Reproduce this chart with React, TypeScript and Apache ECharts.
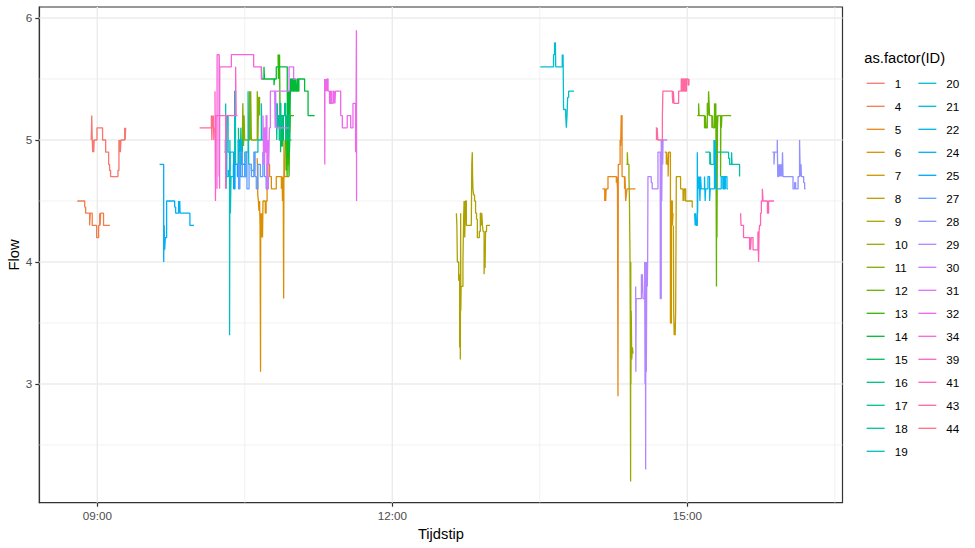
import React, { useEffect, useRef } from "react";
import * as echarts from "echarts";

// ---- axis / tick values (time in minutes since midnight) ----
const xTicks = [540, 720, 900];
const xTickLabels = ["09:00", "12:00", "15:00"];
const xMinor = [630, 810, 990];
const yTicks = [3, 4, 5, 6];
const yMinor = [2.5, 3.5, 4.5, 5.5];
const X_MIN = 504.6;
const X_MAX = 994.7;
const Y_MIN = 2.027;
const Y_MAX = 6.09;

// ---- IDs (factor levels, legend order) ----
const ids = [1, 4, 5, 6, 7, 8, 9, 10, 11, 12, 13, 14, 15, 16, 17, 18, 19, 20, 21, 22, 24, 25, 27, 28, 29, 30, 31, 32, 34, 39, 41, 43, 44];

// ---- series: [time (min), flow] ----
const s1 = [[536.3,5.0],[536.6,5.2],[536.9,5.0],[537.2,4.9],[537.5,5.0],[537.8,4.9],[538.1,5.0],[539.8,5.1],[543.2,5.0],[545.1,4.9],[546.9,4.8],[547.5,4.75],[548.1,4.7],[552.6,4.75],[553.2,5.0],[553.5,4.9],[553.8,5.0],[554.1,4.9],[554.4,5.0],[556.7,5.1],[557.0,5.0],[557.3,5.1]];
const s4 = [[527.8,4.5],[532.3,4.45],[532.9,4.4],[535.3,4.3],[535.7,4.4],[536.9,4.3],[539.6,4.2],[540.8,4.3],[541.4,4.4],[541.7,4.3],[542.0,4.4],[543.8,4.3],[547.7,4.3]];
const s24 = [[578.0,4.8],[580.5,4.0],[580.8,4.3],[581.1,4.1],[581.5,4.2],[582.3,4.5],[587.2,4.45],[587.8,4.4],[589.6,4.5],[590.0,4.4],[590.3,4.5],[590.5,4.4],[596.5,4.3],[599.0,4.3]];
const s44 = [[602.4,5.1],[609.6,5.2],[609.9,5.0],[610.2,5.2],[610.5,5.1],[610.8,5.2],[611.1,5.0],[611.4,5.1],[611.6,5.1]];
const s39 = [[611.8,5.4],[612.1,4.5],[612.4,5.2],[618.3,4.6],[618.6,5.2],[624.4,5.6],[624.7,5.2],[625.5,5.2]];
const s34 = [[613.0,4.6],[613.1,5.7],[614.3,4.7],[614.4,5.7],[614.6,4.6],[614.7,5.6],[621.8,5.7],[635.4,5.6],[640.1,5.5],[641.0,5.5]];
const s31 = [[641.1,5.2],[641.5,4.8],[642.0,5.1],[642.5,4.9],[643.0,5.2],[643.5,4.6],[644.2,5.0],[644.6,4.8],[645.0,5.1],[645.6,5.4],[657.0,5.6],[659.8,5.5],[661.4,5.5]];
const s30 = [[648.2,5.4],[648.5,5.1],[648.8,5.4],[649.2,5.1],[657.0,5.1]];
const s14 = [[640.1,5.6],[640.4,5.5],[641.7,5.6],[642.0,5.5],[647.8,5.45],[648.1,5.5],[649.2,5.6],[655.9,5.4],[656.3,4.85],[656.7,5.4],[657.2,4.9],[657.6,5.2],[657.9,5.5],[658.4,5.4],[659.0,5.5],[659.5,5.4],[660.0,5.5],[660.5,5.4],[661.0,5.5],[661.4,5.4],[662.0,5.5],[662.5,5.4],[663.0,5.5],[666.5,5.4],[668.6,5.2],[672.6,5.2]];
const s13 = [[650.3,5.7],[650.5,5.5],[650.8,5.7],[651.0,5.55],[651.2,5.7],[651.5,5.2],[654.9,5.0],[655.2,4.75],[655.5,5.0],[655.8,4.7],[656.1,5.0],[656.4,4.8],[656.7,4.9],[657.0,4.7],[657.3,5.0],[657.7,5.2],[660.0,5.2]];
const s17 = [[649.2,5.3],[649.5,5.0],[649.8,5.3],[650.1,5.1],[650.5,5.2],[651.0,5.0],[651.5,5.3],[652.0,5.1],[653.0,5.2],[654.3,5.3],[655.0,5.0],[655.5,5.2],[657.0,5.0],[658.4,5.0]];
const s16 = [[626.1,5.1],[626.4,4.7],[626.8,5.0],[627.2,4.75],[627.6,5.1],[628.0,4.8],[628.5,5.0],[629.1,5.0]];
const s15 = [[651.8,4.9],[652.1,5.2],[652.5,4.95],[653.0,5.2],[653.5,5.0],[654.0,5.0]];
const s11 = [[628.5,5.0],[628.8,5.3],[629.2,4.95],[629.6,5.2],[629.9,5.0],[632.9,5.4],[633.2,5.0],[633.6,5.4],[634.0,5.0],[637.6,5.4],[638.0,5.0],[638.4,5.35],[639.0,5.2],[639.3,5.2]];
const s19 = [[618.3,5.3],[618.6,4.6],[619.0,5.2],[619.8,4.9],[620.7,3.4],[620.9,5.0],[621.2,4.4],[621.6,4.7],[623.0,4.8],[623.8,5.4],[624.3,4.8],[625.9,5.0],[628.0,4.8],[630.0,4.9],[632.0,5.4],[632.4,4.8],[634.0,4.75],[636.0,4.9],[638.0,5.0],[640.1,5.3],[640.5,5.0],[643.0,5.0]];
const s21 = [[617.5,4.9],[618.1,5.0],[619.0,4.7],[620.0,4.75],[621.0,4.9],[622.5,4.9]];
const s25 = [[622.4,4.9],[623.2,4.6],[624.0,4.8],[625.5,4.7],[626.8,5.0],[627.3,4.7],[628.5,4.8],[630.0,4.7],[631.0,4.7]];
const s27 = [[625.5,4.8],[626.2,4.6],[627.0,4.9],[628.5,4.7],[630.6,4.9],[631.3,4.6],[632.6,4.8],[634.0,4.7],[635.5,4.9],[636.2,4.7],[637.0,4.6],[638.0,4.8],[639.5,4.7],[641.0,4.9],[642.0,4.7],[643.0,4.6],[644.3,4.7]];
const s6 = [[637.6,4.85],[637.9,4.55],[638.3,4.5],[638.6,4.42],[639.0,4.5],[639.3,4.3],[639.6,3.1],[639.7,4.4],[640.0,4.2],[640.4,4.4],[640.8,4.2],[641.1,4.5],[642.5,4.4],[643.0,4.5],[643.6,4.8],[645.1,4.7],[646.2,4.6],[649.2,4.7],[652.3,4.6],[652.7,4.7],[653.0,4.5],[653.4,4.7],[653.7,3.7],[653.9,5.0],[654.3,4.7],[657.0,4.7]];
const s32 = [[678.7,5.5],[678.8,4.8],[678.9,5.5],[679.3,5.4],[679.6,5.5],[680.0,5.4],[680.3,5.5],[680.8,5.4],[681.7,5.3],[682.3,5.4],[682.8,5.3],[683.8,5.4],[684.4,5.3],[684.7,5.4],[685.0,5.3],[685.3,5.4],[688.5,5.2],[689.5,5.1],[692.5,5.2],[694.6,5.1],[696.0,5.3],[697.6,4.9],[697.9,5.3],[698.1,5.9],[698.2,4.5]];
const s9 = [[759.1,4.4],[759.4,4.3],[759.7,4.0],[760.5,3.85],[761.1,3.3],[761.3,3.9],[761.5,3.2],[761.6,3.7],[761.7,4.4],[761.8,3.6],[762.0,3.8],[762.5,3.8],[763.1,4.0],[763.5,4.35],[763.8,4.5],[764.2,4.2],[764.6,4.5],[765.2,4.3],[768.2,4.3],[768.5,4.8],[768.8,4.9],[769.0,4.7],[769.2,4.6],[769.6,4.55],[770.2,4.5],[770.8,4.4],[771.4,4.35],[771.9,4.2],[773.1,4.25],[773.7,4.4],[774.2,4.3],[774.6,4.4],[775.0,4.3],[775.4,4.25],[776.0,3.9],[776.3,4.1],[776.6,3.95],[776.9,4.25],[777.5,4.3],[779.6,4.3]];
const s20 = [[810.3,5.6],[818.4,5.7],[819.0,5.8],[819.3,5.7],[819.5,5.8],[819.7,5.6],[823.7,5.7],[824.0,5.6],[824.2,5.7],[824.5,5.25],[825.8,5.2],[826.2,5.1],[826.6,5.2],[827.0,5.35],[827.6,5.4],[830.9,5.4]];
const s5 = [[848.2,4.6],[849.6,4.5],[850.0,4.6],[850.2,4.5],[850.5,4.6],[851.6,4.7],[856.7,4.65],[857.0,4.7],[857.4,4.6],[857.7,2.9],[857.9,4.8],[859.0,5.0],[859.3,4.95],[859.7,5.2],[860.2,4.7],[861.7,4.6],[862.0,4.7],[862.4,4.5],[862.8,4.55],[863.2,4.6],[868.4,4.6]];
const s10 = [[862.8,4.8],[863.4,4.9],[863.7,4.8],[864.4,4.7],[864.7,4.5],[865.0,4.1],[865.2,3.5],[865.4,2.2],[865.5,4.0],[865.6,3.0],[865.8,3.6],[866.1,3.2],[866.5,3.3],[866.9,3.25]];
const s29 = [[868.5,3.8],[868.6,3.1],[868.8,3.7],[872.0,3.9],[872.3,3.75],[872.6,3.9],[873.0,3.7],[874.0,4.0],[874.2,3.0],[874.4,3.9],[874.6,2.3],[874.7,4.0],[875.0,3.1],[875.3,4.0],[875.6,3.8],[875.8,4.0],[876.0,4.7],[878.0,4.65],[878.6,4.6],[882.1,4.9],[883.5,3.7],[884.1,5.0],[884.4,4.5],[884.7,5.0],[885.0,4.8],[885.2,5.0],[887.7,5.0]];
const s43 = [[880.7,5.1],[881.2,5.0],[881.6,5.1],[882.0,5.0],[884.8,5.2],[885.1,5.4],[890.9,5.35],[891.2,5.3],[891.5,5.4],[891.9,5.3],[894.7,5.4],[896.3,5.5],[896.8,5.4],[897.3,5.5],[897.8,5.4],[898.4,5.5],[899.0,5.4],[899.5,5.5],[900.0,5.5],[900.5,5.45],[901.0,5.5]];
const s7 = [[886.2,4.9],[887.2,4.8],[887.5,4.9],[887.8,4.8],[888.3,4.7],[888.6,4.9],[889.7,3.5],[890.3,4.5],[890.9,4.3],[891.3,4.4],[891.7,4.4]];
const s8 = [[891.5,4.3],[891.7,3.6],[892.0,3.4],[892.3,3.5],[892.6,3.4],[892.9,3.6],[893.3,4.7],[895.9,4.6],[897.4,4.5],[897.7,4.6],[898.0,4.5],[898.2,4.6],[899.0,4.5],[903.0,4.45],[903.5,4.45]];
const s22 = [[904.5,4.4],[904.8,4.3],[905.1,4.4],[905.5,4.3],[906.1,4.9],[906.3,4.4],[906.5,4.7],[906.9,4.6],[907.3,4.7],[907.7,4.5],[908.1,4.7],[908.5,4.6],[910.5,4.7],[910.9,4.5],[911.2,4.6],[912.6,4.7],[913.6,4.5],[914.0,4.6],[916.6,5.0],[916.9,4.6],[917.2,4.9],[917.6,4.6],[920.7,4.7],[921.7,4.6],[922.2,4.7],[922.7,4.6],[923.2,4.7],[924.2,4.6],[924.8,4.6]];
const s18 = [[911.0,4.9],[913.7,4.8],[914.0,4.9],[914.3,4.8],[916.3,5.0],[916.6,4.8],[916.9,5.0],[917.1,4.9],[925.2,4.85],[925.8,4.8],[927.0,4.9],[927.3,4.8],[931.9,4.7]];
const s12 = [[906.1,5.2],[906.9,5.3],[907.2,5.2],[910.5,5.1],[911.0,5.2],[911.4,5.1],[912.2,5.3],[912.7,5.2],[913.0,5.4],[913.3,5.3],[913.6,5.2],[915.0,5.1],[915.4,5.2],[915.7,5.1],[916.6,5.3],[917.0,5.1],[917.4,5.3],[917.8,3.8],[917.9,5.2],[918.1,4.2],[918.4,5.1],[918.7,5.2],[920.3,4.7],[920.5,5.2],[920.8,5.1],[921.1,5.2],[926.8,5.2]];
const s41 = [[932.5,4.4],[932.8,4.3],[934.3,4.2],[938.0,4.1],[938.3,4.2],[938.6,4.1],[939.0,4.2],[940.1,4.1],[943.1,4.25],[943.5,4.0],[943.8,4.25],[944.1,4.3],[944.7,4.4],[945.2,4.5],[945.8,4.6],[946.2,4.5],[946.6,4.5],[948.9,4.4],[949.6,4.5],[952.9,4.5]];
const s28 = [[951.9,4.9],[952.9,4.8],[953.2,4.9],[954.9,5.0],[955.2,4.7],[955.7,4.8],[956.0,4.7],[956.3,4.8],[956.6,4.7],[956.9,4.8],[957.2,4.7],[957.5,4.8],[957.8,4.7],[958.1,4.9],[958.4,4.7],[964.5,4.6],[965.5,4.65],[966.1,4.6],[967.6,4.7],[968.5,5.0],[968.8,4.8],[969.1,4.7],[969.4,4.8],[969.6,4.7],[971.0,4.65],[971.6,4.6],[972.2,4.6]];

const dataById: Record<number, number[][]> = {
  1: s1, 4: s4, 5: s5, 6: s6, 7: s7, 8: s8, 9: s9, 10: s10, 11: s11, 12: s12, 13: s13, 14: s14,
  15: s15, 16: s16, 17: s17, 18: s18, 19: s19, 20: s20, 21: s21, 22: s22, 24: s24, 25: s25,
  27: s27, 28: s28, 29: s29, 30: s30, 31: s31, 32: s32, 34: s34, 39: s39, 41: s41, 43: s43, 44: s44,
};

const FONT = '"Liberation Sans", Arial, sans-serif';

// ggplot2 default hue palette: hcl(h, c = 100, l = 65)
function hcl(h: number, c: number, l: number): string {
  const hr = (h * Math.PI) / 180;
  const U = c * Math.cos(hr);
  const V = c * Math.sin(hr);
  const Xn = 95.047, Yn = 100, Zn = 108.883;
  const Y = l > 8 ? Yn * Math.pow((l + 16) / 116, 3) : (Yn * l) / 903.3;
  const t = Xn + 15 * Yn + 3 * Zn;
  const un = (4 * Xn) / t, vn = (9 * Yn) / t;
  const up = U / (13 * l) + un;
  const vp = V / (13 * l) + vn;
  const X = (9 * Y * up) / (4 * vp);
  const Z = -X / 3 - 5 * Y + (3 * Y) / vp;
  const x = X / 100, y = Y / 100, z = Z / 100;
  const lin = [
    3.240479 * x - 1.53715 * y - 0.498535 * z,
    -0.969256 * x + 1.875992 * y + 0.041556 * z,
    0.055648 * x - 0.204043 * y + 1.057311 * z,
  ];
  const hex = lin.map((v) => {
    let g = v <= 0.0031308 ? 12.92 * v : 1.055 * Math.pow(v, 1 / 2.4) - 0.055;
    g = Math.max(0, Math.min(1, g));
    return Math.round(g * 255).toString(16).padStart(2, "0");
  });
  return "#" + hex.join("");
}

const colors = ids.map((_, i) => hcl(15 + (i * 360) / ids.length, 100, 65));
const legendCol1 = ids.slice(0, 17).map(String);
const legendCol2 = ids.slice(17).map(String);

function gridSeries(values: number[], dir: "x" | "y", width: number) {
  return {
    type: "custom",
    silent: true,
    z: 1,
    data: values.map((v) => (dir === "x" ? [v, (Y_MIN + Y_MAX) / 2] : [(X_MIN + X_MAX) / 2, v])),
    renderItem: (_p: any, api: any) => {
      const v = api.value(dir === "x" ? 0 : 1);
      const a = dir === "x" ? api.coord([v, Y_MIN]) : api.coord([X_MIN, v]);
      const b = dir === "x" ? api.coord([v, Y_MAX]) : api.coord([X_MAX, v]);
      return {
        type: "line",
        shape: { x1: a[0], y1: a[1], x2: b[0], y2: b[1] },
        style: { stroke: "#EBEBEB", lineWidth: width },
      };
    },
  };
}

export default function App() {
  const ref = useRef<HTMLDivElement>(null);
  useEffect(() => {
    if (!ref.current) return;
    const chart = echarts.init(ref.current, undefined, { renderer: "svg" });
    const legendBase = {
      orient: "vertical",
      top: 76.3,
      itemWidth: 18,
      itemHeight: 14,
      itemGap: 9,
      padding: 0,
      selectedMode: false,
      itemStyle: { opacity: 0, borderWidth: 0 },
      lineStyle: { width: 1.3 },
      textStyle: { fontSize: 11.7, color: "#000000", fontFamily: FONT, lineHeight: 14, padding: [0, 0, 0, 5] },
    };
    chart.setOption({
      animation: false,
      backgroundColor: "#ffffff",
      textStyle: { fontFamily: FONT },
      grid: {
        left: 39.3, top: 7, right: 132.5, bottom: 45.3,
        show: true, borderColor: "#333333", borderWidth: 1.2, backgroundColor: "transparent",
      },
      xAxis: {
        type: "value", min: X_MIN, max: X_MAX,
        axisLine: { show: true, onZero: false, lineStyle: { color: "#333333", width: 1.2 } },
        axisTick: { show: true, customValues: xTicks, length: 4, lineStyle: { color: "#333333", width: 1.2 } },
        axisLabel: {
          customValues: xTicks,
          formatter: (v: number) => xTickLabels[xTicks.indexOf(v)] ?? "",
          color: "#4D4D4D", fontSize: 11.7, margin: 7, fontFamily: FONT,
        },
        splitLine: { show: false },
      },
      yAxis: {
        type: "value", min: Y_MIN, max: Y_MAX,
        axisLine: { show: true, onZero: false, lineStyle: { color: "#333333", width: 1.2 } },
        axisTick: { show: true, customValues: yTicks, length: 4, lineStyle: { color: "#333333", width: 1.2 } },
        axisLabel: {
          customValues: yTicks,
          formatter: (v: number) => String(v),
          color: "#4D4D4D", fontSize: 11.7, margin: 7, fontFamily: FONT,
        },
        splitLine: { show: false },
      },
      legend: [
        { ...legendBase, left: 866, data: legendCol1 },
        { ...legendBase, left: 917.7, data: legendCol2 },
      ],
      graphic: [
        { type: "text", x: 440.9, y: 534, style: { text: "Tijdstip", fontSize: 14.7, fontFamily: FONT, fill: "#000", align: "center", verticalAlign: "middle" } },
        { type: "text", x: 14, y: 254.9, rotation: Math.PI / 2, style: { text: "Flow", fontSize: 14.7, fontFamily: FONT, fill: "#000", align: "center", verticalAlign: "middle" } },
        { type: "text", x: 864.3, y: 58.3, style: { text: "as.factor(ID)", fontSize: 14.7, fontFamily: FONT, fill: "#000", align: "left", verticalAlign: "middle" } },
      ],
      series: [
        gridSeries(xMinor, "x", 0.7),
        gridSeries(yMinor, "y", 0.7),
        gridSeries(xTicks, "x", 1.4),
        gridSeries(yTicks, "y", 1.4),
        ...ids.map((id, i) => ({
          name: String(id),
          type: "line",
          step: "end",
          data: dataById[id],
          showSymbol: false,
          symbol: "none",
          silent: true,
          z: 3,
          lineStyle: { width: 1.3, color: colors[i] },
          itemStyle: { color: colors[i] },
          emphasis: { disabled: true },
        })),
      ],
    });
    return () => chart.dispose();
  }, []);
  return (
    <div
      ref={ref}
      style={{ position: "fixed", left: 0, top: 0, width: 975, height: 548, background: "#fff" }}
    />
  );
}
